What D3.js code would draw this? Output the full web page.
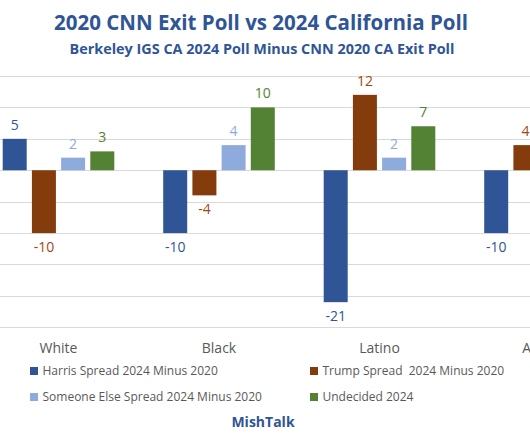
<!DOCTYPE html>
<html>
<head>
<meta charset="utf-8">
<script src="https://cdn.jsdelivr.net/npm/d3@7"></script>
<style>
html,body{margin:0;padding:0;background:#fff;overflow:hidden;}
svg{display:block;font-family:"Open Sans","Liberation Sans",sans-serif;}
</style>
</head>
<body>
<svg id="chart" width="530" height="442"></svg>
<script>
const categories = ["White", "Black", "Latino", "Asian"];
const seriesNames = ["Harris Spread 2024 Minus 2020", "Trump Spread  2024 Minus 2020", "Someone Else Spread 2024 Minus 2020", "Undecided 2024"];
const harris = [5, -10, -21, -10];
const trump = [-10, -4, 12, 4];
const someoneElse = [2, 4, 2, null];
const undecided = [3, 10, 7, null];
const yTicks = [-25, -20, -15, -10, -5, 0, 5, 10, 15];
const titleText = "2020 CNN Exit Poll vs 2024 California Poll";
const subtitleText = "Berkeley IGS CA 2024 Poll Minus CNN 2020 CA Exit Poll";
const footerText = "MishTalk";

const colors = ["#2F5597", "#843C0C", "#8FAADC", "#548235"];
const labelColors = ["#2F5597", "#9C4A14", "#8FAADC", "#548235"];
const seriesValues = [harris, trump, someoneElse, undecided];

const svg = d3.select("#chart");

const y = d3.scaleLinear().domain([-25, 15]).range([327.3, 76]);
const pIn = 0.3047;
const x0 = d3.scaleBand().domain(categories).range([-21.75, 620.25]).paddingInner(pIn).paddingOuter(pIn / 2);
const x1 = d3.scaleBand().domain(d3.range(seriesNames.length)).range([0, x0.bandwidth()]).paddingInner(0.178).paddingOuter(0);

// gridlines
svg.append("g").selectAll("line").data(yTicks).join("line")
  .attr("x1", 0).attr("x2", 530)
  .attr("y1", d => Math.round(y(d)) + 0.5).attr("y2", d => Math.round(y(d)) + 0.5)
  .attr("stroke", "#d9d9d9").attr("stroke-width", 1);

// bars
const rows = [];
categories.forEach((c, i) => seriesValues.forEach((s, j) => { if (s[i] != null) rows.push({c, j, v: s[i]}); }));

svg.append("g").selectAll("rect").data(rows).join("rect")
  .attr("x", d => x0(d.c) + x1(d.j))
  .attr("width", x1.bandwidth())
  .attr("y", d => y(Math.max(0, d.v)))
  .attr("height", d => Math.abs(y(d.v) - y(0)))
  .attr("fill", d => colors[d.j]);

// data labels
svg.append("g").selectAll("text").data(rows).join("text")
  .attr("x", d => x0(d.c) + x1(d.j) + x1.bandwidth() / 2)
  .attr("y", d => y(d.v) + (d.v >= 0 ? -14 : 14))
  .attr("dy", "0.36em")
  .attr("text-anchor", "middle")
  .attr("font-size", 14)
  .attr("fill", d => labelColors[d.j])
  .text(d => d.v);

// category labels
svg.append("g").selectAll("text").data(categories).join("text")
  .attr("x", d => x0(d) + x0.bandwidth() / 2)
  .attr("y", 352.5)
  .attr("text-anchor", "middle")
  .attr("font-size", 14)
  .attr("fill", "#595959")
  .text(d => d);

// titles
svg.append("text").attr("x", 261).attr("y", 29.5).attr("text-anchor", "middle")
  .attr("font-size", 20.5).attr("font-weight", "bold").attr("fill", "#2F5597").text(titleText);
svg.append("text").attr("x", 262).attr("y", 53.5).attr("text-anchor", "middle")
  .attr("font-size", 14.4).attr("font-weight", "bold").attr("fill", "#2F5597").text(subtitleText);

// legend
const legendPos = [[30, 371], [310, 371], [30, 397], [310, 397]];
const lg = svg.append("g").selectAll("g").data(seriesNames).join("g")
  .attr("transform", (d, i) => `translate(${legendPos[i][0]},${legendPos[i][1]})`);
lg.append("rect").attr("x", 0).attr("y", -4).attr("width", 8).attr("height", 8).attr("fill", (d, i) => colors[i]);
lg.append("text").attr("x", 12.5).attr("y", 0).attr("dy", "0.36em").attr("font-size", 12)
  .attr("fill", "#595959").attr("xml:space", "preserve").style("white-space", "pre").text(d => d);

svg.append("text").attr("x", 263).attr("y", 427).attr("text-anchor", "middle")
  .attr("font-size", 14).attr("font-weight", "bold").attr("fill", "#2F5597").text(footerText);
</script>
</body>
</html>
